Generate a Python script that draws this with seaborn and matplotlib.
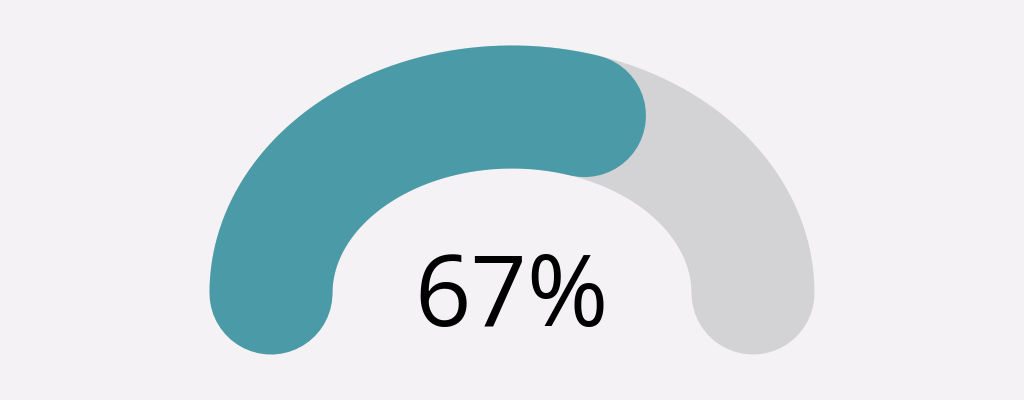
import numpy as np
import pandas as pd
import matplotlib
matplotlib.use("Agg")
import matplotlib.pyplot as plt
import seaborn as sns

# GAUGE VALUE
value = 67
max_value = 100
label = f"{value}%"

# COLOURS
track_color = "#d3d2d5"
fill_color = "#4a9aa8"
bg_color = "#f4f2f5"

# GEOMETRY IN PIXELS (figure is 1024x400, y grows downwards)
cx, cy = 512, 293
rx, ry = 241, 186
stroke_px = 123

sns.set_theme(style="white")
plt.rcParams["font.family"] = ["Open Sans", "DejaVu Sans"]

fig = plt.figure(figsize=(10.24, 4), dpi=100)
fig.patch.set_facecolor(bg_color)
ax = fig.add_axes([0, 0, 1, 1])
ax.set_facecolor(bg_color)

# midline of the half ring, left end to right end
t = np.linspace(np.pi, 0, 721)
xs = cx + rx * np.cos(t)
ys = cy - ry * np.sin(t)
s = np.concatenate([[0], np.cumsum(np.hypot(np.diff(xs), np.diff(ys)))])

# filled stroke covers value% of the visible track length (round caps included)
target = value / max_value * (s[-1] + stroke_px) - stroke_px
n = int(np.searchsorted(s, target))

track = pd.DataFrame({"x": xs, "y": ys})
lw = stroke_px * 72 / 100
style = dict(sort=False, estimator=None, lw=lw, solid_capstyle="round",
             solid_joinstyle="round", ax=ax)
sns.lineplot(data=track, x="x", y="y", color=track_color, **style)
sns.lineplot(data=track.iloc[:n], x="x", y="y", color=fill_color, **style)

ax.text(cx, 326, label, ha="center", va="baseline", fontsize=71, color="black")

ax.set_xlim(0, 1024)
ax.set_ylim(400, 0)
ax.axis("off")

fig.savefig("out.png", dpi=100, facecolor=bg_color)
